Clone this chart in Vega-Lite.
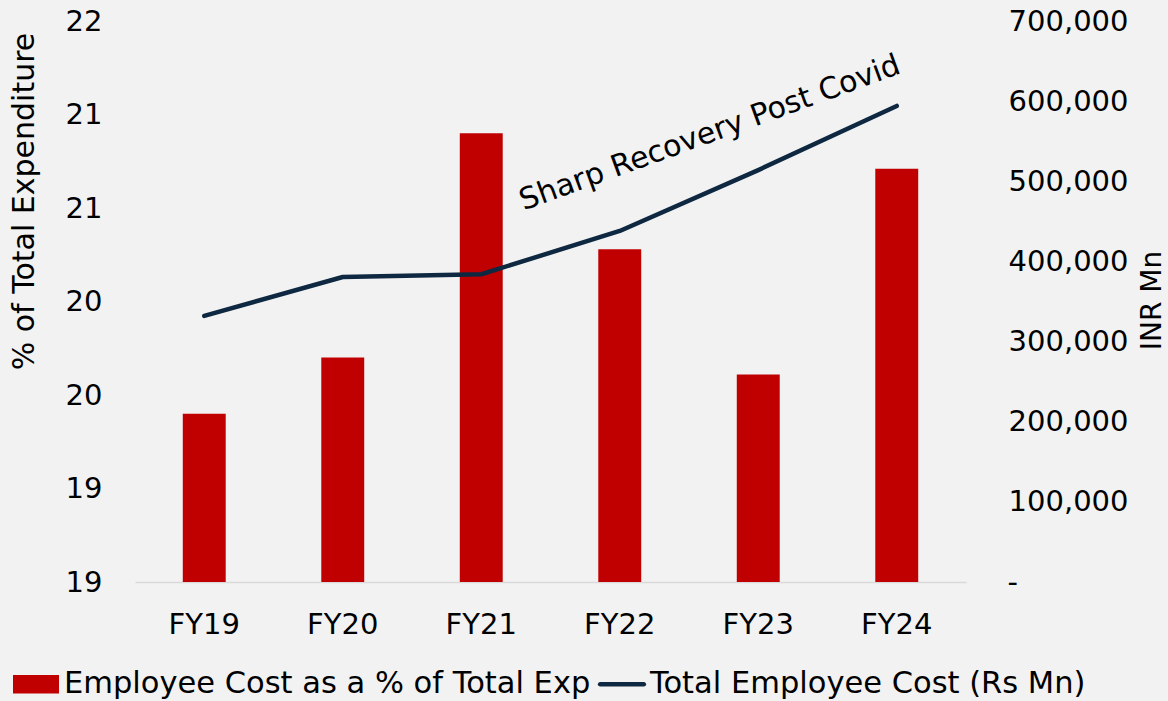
{
  "$schema": "https://vega.github.io/schema/vega-lite/v6.json",
  "width": 831,
  "height": 561,
  "autosize": {"type": "none"},
  "padding": {"left": 135, "top": 21, "right": 202, "bottom": 119},
  "background": "#f2f2f2",
  "config": {
    "view": {"stroke": null},
    "font": "DejaVu Sans",
    "axis": {"labelFont": "DejaVu Sans", "titleFont": "DejaVu Sans", "labelColor": "#000000", "titleColor": "#000000", "labelFontSize": 29, "titleFontSize": 30, "titleFontWeight": "normal", "grid": false, "ticks": false, "domain": false},
    "legend": {"labelFont": "DejaVu Sans", "labelFontSize": 30.5, "labelColor": "#000000"}
  },
  "datasets": {
    "main": [
      {"year": "FY19", "pct": 19.90, "cost": 332000},
      {"year": "FY20", "pct": 20.20, "cost": 380600},
      {"year": "FY21", "pct": 21.40, "cost": 384000},
      {"year": "FY22", "pct": 20.78, "cost": 438000},
      {"year": "FY23", "pct": 20.11, "cost": 514000},
      {"year": "FY24", "pct": 21.21, "cost": 594000}
    ],
    "note": [
      {"year": "FY22", "cost": 519000, "label": "Sharp Recovery Post Covid"}
    ],
    "legend": [
      {"series": "Employee Cost as a % of Total Exp"},
      {"series": "Total Employee Cost (Rs Mn)"}
    ]
  },
  "encoding": {
    "x": {
      "field": "year", "type": "nominal", "sort": null,
      "scale": {"paddingInner": 0.69, "paddingOuter": 0.345},
      "axis": {"title": null, "labelAngle": 0, "labelPadding": 28, "domain": true, "domainColor": "#d9d9d9", "domainWidth": 1.5}
    }
  },
  "layer": [
    {
      "data": {"name": "main"},
      "mark": {"type": "bar", "color": "#c00000"},
      "encoding": {
        "y": {
          "field": "pct", "type": "quantitative",
          "scale": {"domain": [19, 22], "zero": false, "nice": false},
          "axis": {
            "title": "% of Total Expenditure",
            "values": [19, 19.5, 20, 20.5, 21, 21.5, 22],
            "labelExpr": "floor(datum.value)",
            "labelPadding": 33,
            "titleX": -111, "titleY": 180, "titleAngle": -90, "titleAlign": "center", "titleBaseline": "middle"
          }
        },
        "y2": {"datum": 19}
      }
    },
    {
      "layer": [
        {
          "data": {"name": "main"},
          "mark": {"type": "line", "color": "#0e2841", "strokeWidth": 4.5, "strokeCap": "round", "strokeJoin": "round"},
          "encoding": {
            "y": {
              "field": "cost", "type": "quantitative",
              "scale": {"domain": [0, 700000], "nice": false},
              "axis": {
                "title": "INR Mn",
                "orient": "right",
                "values": [0, 100000, 200000, 300000, 400000, 500000, 600000, 700000],
                "labelExpr": "datum.value == 0 ? '-\u00a0\u00a0\u00a0\u00a0\u00a0\u00a0\u00a0\u00a0\u00a0\u00a0\u00a0\u00a0\u200b' : format(datum.value, ',')",
                "labelAlign": "right",
                "labelPadding": 162,
                "titleFontSize": 28,
                "titleX": 186, "titleY": 279, "titleAngle": -90, "titleAlign": "center", "titleBaseline": "middle"
              }
            }
          }
        },
        {
          "data": {"name": "note"},
          "mark": {"type": "text", "angle": 340, "fontSize": 30, "font": "DejaVu Sans", "color": "#000000", "dx": 96, "align": "center", "baseline": "middle"},
          "encoding": {
            "y": {"field": "cost", "type": "quantitative"},
            "text": {"field": "label"}
          }
        }
      ]
    },
    {
      "data": {"name": "legend"},
      "mark": {"type": "point", "opacity": 0, "filled": true},
      "encoding": {
        "x": {"value": 0},
        "y": {"value": 0},
        "color": {
          "field": "series", "type": "nominal",
          "scale": {"domain": ["Employee Cost as a % of Total Exp", "Total Employee Cost (Rs Mn)"], "range": ["#c00000", "#0e2841"]},
          "legend": {
            "title": null, "orient": "none", "direction": "horizontal",
            "legendX": -122, "legendY": 640,
            "symbolSize": 2116, "symbolOpacity": 1, "symbolStrokeWidth": 0,
            "labelOffset": 5, "columnPadding": 6, "labelLimit": 800,
            "encode": {"symbols": {"update": {"opacity": {"value": 1}, "fillOpacity": {"value": 1}}}}
          }
        },
        "shape": {
          "field": "series", "type": "nominal",
          "scale": {"domain": ["Employee Cost as a % of Total Exp", "Total Employee Cost (Rs Mn)"], "range": ["M-1,-0.4H1V0.4H-1Z", "M-0.95,-0.1H0.95A0.1,0.1 0 0 1 0.95,0.1H-0.95A0.1,0.1 0 0 1 -0.95,-0.1Z"]}
        }
      }
    }
  ],
  "resolve": {"scale": {"y": "independent"}}
}
